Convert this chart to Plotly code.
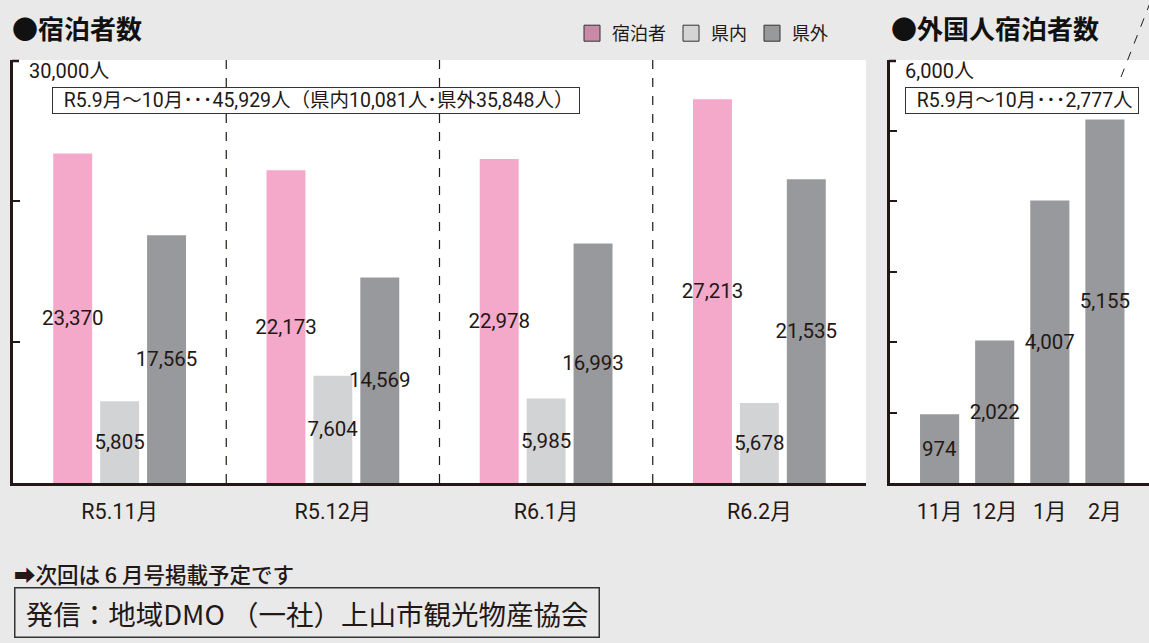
import plotly.graph_objects as go

# ---- data ----
months = ["R5.11月", "R5.12月", "R6.1月", "R6.2月"]
total = [23370, 22173, 22978, 27213]
inpref = [5805, 7604, 5985, 5678]
outpref = [17565, 14569, 16993, 21535]
series_names = ["宿泊者", "県内", "県外"]

foreign_months = ["11月", "12月", "1月", "2月"]
foreign = [974, 2022, 4007, 5155]

left_note = "&nbsp;&nbsp;R5.9月〜10月･･･45,929人（県内10,081人･県外35,848人）&nbsp;"
right_note = "&nbsp;&nbsp;R5.9月〜10月･･･2,777人&nbsp;"

# ---- style ----
W, H = 1149, 643
PINK, LIGHT, DARK = "#f4a9cb", "#d2d3d5", "#98999c"
LEG_COLORS = ["#c98aa8", "#d4d4d6", "#98999b"]
INK = "#231815"
NUMFONT = "Roboto, Noto Sans CJK JP"
JP = "Noto Sans CJK JP"

def px(x):
    return x / W

def py(y):
    return 1 - y / H

xd1 = [px(13), px(866)]
xd2 = [px(890), 1.0]
yd = [py(483), py(60)]

fig = go.Figure()
for name, vals, col in zip(series_names, [total, inpref, outpref], [PINK, LIGHT, DARK]):
    fig.add_trace(go.Bar(
        x=months, y=vals, name=name, showlegend=False, marker=dict(color=col, line=dict(width=0)),
        text=[f"{v:,}" for v in vals], textposition="inside", insidetextanchor="middle",
        textangle=0, constraintext="none",
        insidetextfont=dict(family=NUMFONT, size=20.5, color=INK),
        xaxis="x", yaxis="y", cliponaxis=False,
    ))

# legend entries (square swatches with outline, as in the print)
for name, col in zip(series_names, LEG_COLORS):
    fig.add_trace(go.Scatter(
        x=[None], y=[None], mode="markers", name=name, showlegend=True,
        marker=dict(symbol="square", size=17, color=col, line=dict(color="#333", width=1)),
        xaxis="x", yaxis="y",
    ))

fig.add_trace(go.Bar(
    x=foreign_months, y=foreign, name="外国人", showlegend=False, width=0.71,
    marker=dict(color=DARK, line=dict(width=0)),
    text=[f"{v:,}" for v in foreign], textposition="inside", insidetextanchor="middle",
    textangle=0, constraintext="none",
    insidetextfont=dict(family=NUMFONT, size=20.5, color=INK),
    xaxis="x2", yaxis="y2", cliponaxis=False,
))

axis_common = dict(showgrid=False, zeroline=False)
fig.update_layout(
    width=W, height=H, margin=dict(l=0, r=0, t=0, b=0),
    paper_bgcolor="#e9e9e9", plot_bgcolor="white",
    barmode="group", bargap=0.34, bargroupgap=0.17,
    uniformtext=dict(mode="show", minsize=20),
    font=dict(family=NUMFONT, color=INK),
    xaxis=dict(domain=xd1, range=[-0.5, 3.5], showline=True, linecolor="#231815", linewidth=3,
               ticks="", tickfont=dict(family=NUMFONT, size=21.5, color=INK), ticklabelstandoff=7,
               **axis_common),
    yaxis=dict(domain=yd, range=[0, 30000], showline=True, linecolor="#231815", linewidth=3,
               tickvals=[10000, 20000], ticks="inside", ticklen=7, tickwidth=2, tickcolor="#231815",
               showticklabels=False, **axis_common),
    xaxis2=dict(domain=xd2, anchor="y2", range=[-0.9, 3.8], showline=True, linecolor="#231815",
                linewidth=3, ticks="", tickfont=dict(family=NUMFONT, size=21.5, color=INK),
                ticklabelstandoff=7, **axis_common),
    yaxis2=dict(domain=yd, anchor="x2", range=[0, 6000], showline=True, linecolor="#231815",
                linewidth=3, tickvals=[1000, 2000, 3000, 4000, 5000], ticks="inside", ticklen=7,
                tickwidth=2, tickcolor="#231815", showticklabels=False, **axis_common),
    legend=dict(orientation="h", x=px(572), y=py(15), xanchor="left", yanchor="top",
                bgcolor="rgba(0,0,0,0)", font=dict(family=JP, size=18, color=INK),
                itemwidth=30, tracegroupgap=0),
    showlegend=True,
)

shapes = []
# dashed separators between month groups
for i in range(len(months) - 1):
    shapes.append(dict(type="line", xref="x", yref="y domain", x0=i + 0.5, x1=i + 0.5, y0=0, y1=1,
                       line=dict(color="#231815", width=1.2, dash="dash"), layer="below"))
# bracket stubs at top of y axes
for xl in [13, 890]:
    shapes.append(dict(type="line", xref="paper", yref="paper", x0=px(xl - 1), x1=px(xl + 6),
                       y0=py(61), y1=py(61), line=dict(color="#231815", width=2.5)))
# decorative diagonal dashed line
shapes.append(dict(type="line", xref="paper", yref="paper", x0=px(1121), y0=py(77), x1=px(1150),
                   y1=py(3), line=dict(color="#231815", width=1, dash="dash")))
fig.update_layout(shapes=shapes)

ann = []
ann.append(dict(text="<b>●宿泊者数</b>", x=px(10), y=py(28), xref="paper", yref="paper",
                xanchor="left", yanchor="middle", showarrow=False,
                font=dict(family=JP, size=26, color="#111")))
ann.append(dict(text="<b>●外国人宿泊者数</b>", x=px(889), y=py(28), xref="paper", yref="paper",
                xanchor="left", yanchor="middle", showarrow=False,
                font=dict(family=JP, size=26, color="#111")))
ann.append(dict(text="30,000人", x=px(27), y=py(71), xref="paper", yref="paper",
                xanchor="left", yanchor="middle", showarrow=False,
                font=dict(family=NUMFONT, size=20, color=INK)))
ann.append(dict(text="6,000人", x=px(903), y=py(71), xref="paper", yref="paper",
                xanchor="left", yanchor="middle", showarrow=False,
                font=dict(family=NUMFONT, size=20, color=INK)))
ann.append(dict(text=left_note, x=px(52), y=py(100), xref="paper", yref="paper",
                xanchor="left", yanchor="middle", showarrow=False, bgcolor="white",
                bordercolor="#333", borderwidth=1, borderpad=1,
                font=dict(family=NUMFONT, size=19.5, color=INK)))
ann.append(dict(text=right_note, x=px(905), y=py(100), xref="paper", yref="paper",
                xanchor="left", yanchor="middle", showarrow=False, bgcolor="white",
                bordercolor="#333", borderwidth=1, borderpad=1,
                font=dict(family=NUMFONT, size=19.5, color=INK)))
ann.append(dict(text="➡次回は 6 月号掲載予定です", x=px(12), y=py(573), xref="paper", yref="paper",
                xanchor="left", yanchor="middle", showarrow=False,
                font=dict(family=JP, size=21.5, color=INK, weight=500)))
ann.append(dict(text="&nbsp;発信：地域DMO （一社）上山市観光物産協会&nbsp;", x=px(14), y=py(612), xref="paper",
                yref="paper", xanchor="left", yanchor="middle", showarrow=False,
                bordercolor="#333", borderwidth=1.5, borderpad=4,
                font=dict(family=JP, size=27.5, color=INK)))
fig.update_layout(annotations=ann)

fig.write_html("out.html", config={"displayModeBar": False},
               post_script="document.body.style.margin='0';document.body.style.overflow='hidden';")
